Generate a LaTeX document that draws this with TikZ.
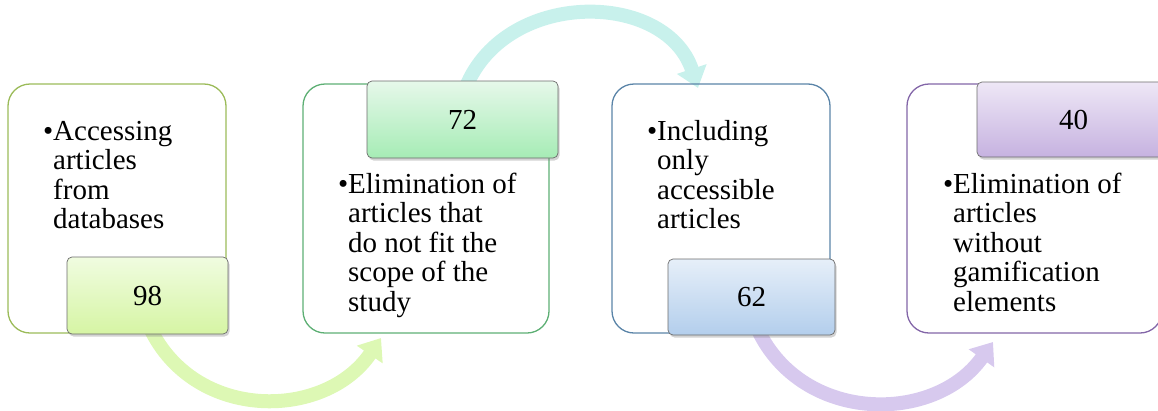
\documentclass[tikz,border=0pt]{standalone}
\usepackage{fontspec}
\setmainfont{Liberation Serif}
\usetikzlibrary{arrows.meta,shadows,backgrounds}
\definecolor{bordA}{HTML}{9BBB59}
\definecolor{bordB}{HTML}{5DAF74}
\definecolor{bordC}{HTML}{5A84A8}
\definecolor{bordD}{HTML}{8366A8}
\definecolor{topA}{HTML}{F0FCE0}
\definecolor{botA}{HTML}{D6F5A4}
\definecolor{topB}{HTML}{E6F8EA}
\definecolor{botB}{HTML}{A6ECB5}
\definecolor{topC}{HTML}{E6EFF9}
\definecolor{botC}{HTML}{B3CEEC}
\definecolor{topD}{HTML}{EEE7F6}
\definecolor{botD}{HTML}{C6B2E0}
\definecolor{flowA}{HTML}{DDF8B4}
\definecolor{flowB}{HTML}{C8F1EC}
\definecolor{flowC}{HTML}{D7C9EE}
\begin{document}
\begin{tikzpicture}[x=1pt,y=-1pt,
  outerbox/.style={draw, rounded corners=22pt, line width=1.3pt},
  numbox/.style={draw=gray!85!black, line width=0.7pt, rounded corners=5pt,
    inner sep=0pt, font=\fontsize{29}{29.5}\selectfont,
    drop shadow={shadow xshift=1.5pt, shadow yshift=-2.5pt, opacity=0.35}},
  itemtext/.style={anchor=north west, align=left, inner sep=0pt,
    font=\fontsize{29}{29.5}\selectfont},
  flow/.style={line width=14pt, -{Triangle[width=30pt,length=20pt]}}]
\useasboundingbox (0,0) rectangle (1158,410);

% outer boxes
\node[outerbox, draw=bordA, minimum width=218pt, minimum height=249pt] (o1) at (117,208.5) {};
\node[outerbox, draw=bordB, minimum width=246pt, minimum height=249pt] (o2) at (426,208.5) {};
\node[outerbox, draw=bordC, minimum width=218pt, minimum height=249pt] (o3) at (721,208.5) {};
\node[outerbox, draw=bordD, minimum width=255pt, minimum height=249pt] (o4) at (1034.5,208.5) {};

% number boxes
\node[numbox, top color=topA, bottom color=botA, minimum width=161pt, minimum height=77pt] (n1) at (147.5,295.5) {98};
\node[numbox, top color=topB, bottom color=botB, minimum width=191pt, minimum height=77pt] (n2) at (462.5,119.5) {72};
\node[numbox, top color=topC, bottom color=botC, minimum width=167pt, minimum height=76pt] (n3) at (751.5,297) {62};
\node[numbox, top color=topD, bottom color=botD, minimum width=193pt, minimum height=75pt] (n4) at (1073.5,119.5) {40};

% texts
\node[itemtext] (t1) at (53,119.35) {\llap{•}\strut Accessing\\articles\\from\\databases};
\node[itemtext] (t2) at (348,172.35) {\llap{•}\strut Elimination of\\articles that\\do not fit the\\scope of the\\study};
\node[itemtext] (t3) at (657,119.35) {\llap{•}\strut Including\\only\\accessible\\articles};
\node[itemtext] (t4) at (953,172.35) {\llap{•}\strut Elimination of\\articles\\without\\gamification\\elements};

% arrows
\coordinate (a1s) at (150,328);
\coordinate (a1e) at (381,338);
\coordinate (a2s) at (462,98);
\coordinate (a2e) at (698,88);
\coordinate (a3s) at (758,330);
\coordinate (a3e) at (993,342);
\begin{scope}[on background layer]
\draw[flow, color=flowA] (a1s) .. controls (195,422) and (325,420) .. (a1e);
\draw[flow, color=flowB] (a2s) .. controls (495,-12) and (665,-12) .. (a2e);
\draw[flow, color=flowC] (a3s) .. controls (803,424) and (935,424) .. (a3e);
\end{scope}
\end{tikzpicture}
\end{document}
